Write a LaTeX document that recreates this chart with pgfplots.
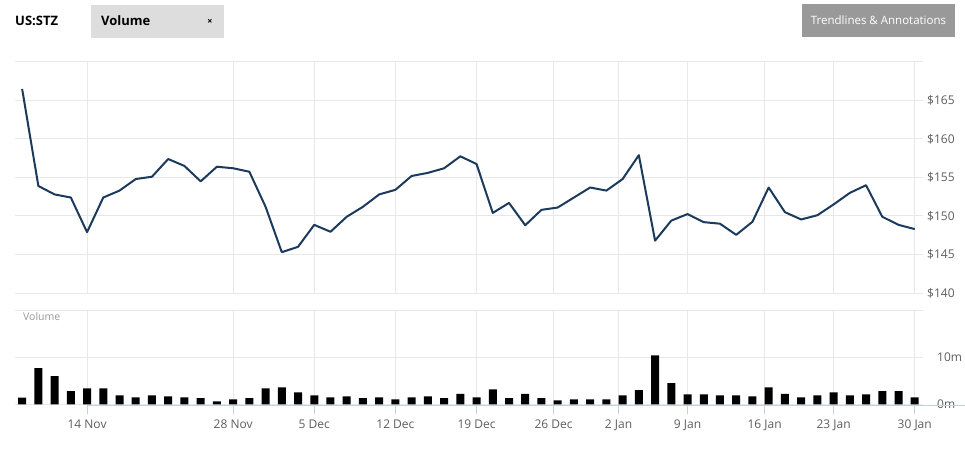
\documentclass[border=0pt]{standalone}
\usepackage{fontspec}
\setmainfont{Open Sans}
\usepackage{pgfplots}
\pgfplotsset{compat=1.18}
\usetikzlibrary{calc}
\definecolor{gridcol}{HTML}{E8E8E8}
\definecolor{linecol}{HTML}{1B3A5C}
\definecolor{labcol}{HTML}{5E5E5E}
\definecolor{axcol}{HTML}{C3D0DD}
\definecolor{tabcol}{HTML}{DDDDDD}
\definecolor{btncol}{HTML}{999999}
\definecolor{vollab}{HTML}{999999}
\begin{document}
\begin{tikzpicture}
\path[use as bounding box, fill=white] (0pt,0pt) rectangle (965pt,450pt);
% header
\node[anchor=west, inner sep=0pt, font=\fontsize{13}{15}\selectfont\bfseries] at (15pt,429pt) {US:STZ};
\fill[tabcol] (91pt,412pt) rectangle (224pt,445pt);
\node[anchor=west, inner sep=0pt, font=\fontsize{13}{15}\selectfont\bfseries] at (101pt,429pt) {Volume};
\node[font=\fontsize{9}{10}\selectfont\bfseries] at (210pt,428.5pt) {×};
\fill[btncol] (802pt,413pt) rectangle (955pt,446pt);
\node[text=white, font=\fontsize{11.5}{14}\selectfont] at (878.5pt,429.5pt) {Trendlines \& Annotations};

% price panel
\begin{axis}[name=price, at={(15pt,157pt)}, anchor=south west, scale only axis,
  width=908pt, height=231pt,
  xmin=-4.44, xmax=51.51, ymin=140, ymax=170,
  axis line style={draw=none},
  xtick={0,9,14,19,24,28.75,32.75,37,41.75,46,51}, xticklabels={\empty,\empty,\empty,\empty,\empty,\empty,\empty,\empty,\empty,\empty,\empty},
  ytick={140,145,150,155,160,165,170},
  yticklabels={\$140,\$145,\$150,\$155,\$160,\$165,{}},
  yticklabel pos=right,
  yticklabel style={font=\fontsize{12}{14}\selectfont, text=labcol, anchor=west, inner sep=0pt, xshift=4pt},
  grid=major, grid style={gridcol, line width=1pt},
  major tick length=0pt, tick style={draw=none},
  clip=false]
\addplot[linecol, line width=2pt, line join=round, mark=none] coordinates {
(-4,166.5)(-3,153.9)(-2,152.8)(-1,152.4)(0,147.9)(1,152.4)(2,153.3)(3,154.8)
(4,155.1)(5,157.4)(6,156.5)(7,154.5)(8,156.4)(9,156.2)(10,155.75)(11,151.2)
(12,145.3)(13,146.0)(14,148.85)(15,147.95)(16,149.9)(17,151.2)(18,152.8)(19,153.4)
(20,155.2)(21,155.6)(22,156.2)(23,157.75)(24,156.75)(25,150.4)(26,151.7)(27,148.8)
(28,150.8)(29,151.1)(30,152.4)(31,153.7)(32,153.3)(33,154.8)(34,157.9)(35,146.8)
(36,149.4)(37,150.25)(38,149.2)(39,149.0)(40,147.55)(41,149.25)(42,153.7)(43,150.5)
(44,149.55)(45,150.1)(46,151.5)(47,153.0)(48,154.0)(49,149.9)(50,148.85)(51,148.3)
};
\end{axis}

% volume panel
\begin{axis}[name=vol, at={(15pt,45.7pt)}, anchor=south west, scale only axis,
  width=908pt, height=94pt,
  xmin=-4.44, xmax=51.51, ymin=0, ymax=20,
  axis line style={draw=none},
  xtick={0,9,14,19,24,28.75,32.75,37,41.75,46,51},
  xticklabels={14 Nov,28 Nov,5 Dec,12 Dec,19 Dec,26 Dec,2 Jan,9 Jan,16 Jan,23 Jan,30 Jan},
  xticklabel style={font=\fontsize{12}{14}\selectfont, text=labcol, inner sep=0pt, yshift=-5pt},
  xtick pos=left, tick align=outside,
  xtick style={draw=axcol, line width=1pt},
  major tick length=10pt,
  ytick={0,10,20}, yticklabels={0m,10m,{}},
  yticklabel pos=right,
  ytick style={draw=none},
  yticklabel style={font=\fontsize{12}{14}\selectfont, text=labcol, anchor=west, inner sep=0pt, xshift=4pt},
  grid=major, grid style={gridcol, line width=1pt},
  clip=false]
\addplot[ybar, bar width=8pt, fill=black, draw=none] coordinates {
(-4,1.4)(-3,7.7)(-2,6.0)(-1,2.8)(0,3.4)(1,3.4)(2,1.9)(3,1.5)
(4,1.9)(5,1.7)(6,1.5)(7,1.3)(8,0.6)(9,1.06)(10,1.3)(11,3.4)
(12,3.6)(13,2.55)(14,1.9)(15,1.5)(16,1.7)(17,1.3)(18,1.5)(19,1.06)
(20,1.5)(21,1.7)(22,1.3)(23,2.2)(24,1.5)(25,3.2)(26,1.3)(27,2.2)
(28,1.3)(29,0.85)(30,1.06)(31,1.06)(32,1.06)(33,1.9)(34,3.0)(35,10.4)
(36,4.5)(37,2.1)(38,2.1)(39,1.9)(40,1.9)(41,1.7)(42,3.6)(43,2.2)
(44,1.5)(45,1.9)(46,2.55)(47,1.9)(48,2.1)(49,2.8)(50,2.8)(51,1.5)
};
\draw[axcol, line width=1.2pt] ($(rel axis cs:0,0)+(0,-1.5pt)$) -- ($(rel axis cs:1,0)+(0,-1.5pt)$);
\node[anchor=west, inner sep=0pt, text=vollab, font=\fontsize{10.5}{12}\selectfont] at ($(rel axis cs:0,1)+(8pt,-6.5pt)$) {Volume};
\end{axis}
\end{tikzpicture}
\end{document}
